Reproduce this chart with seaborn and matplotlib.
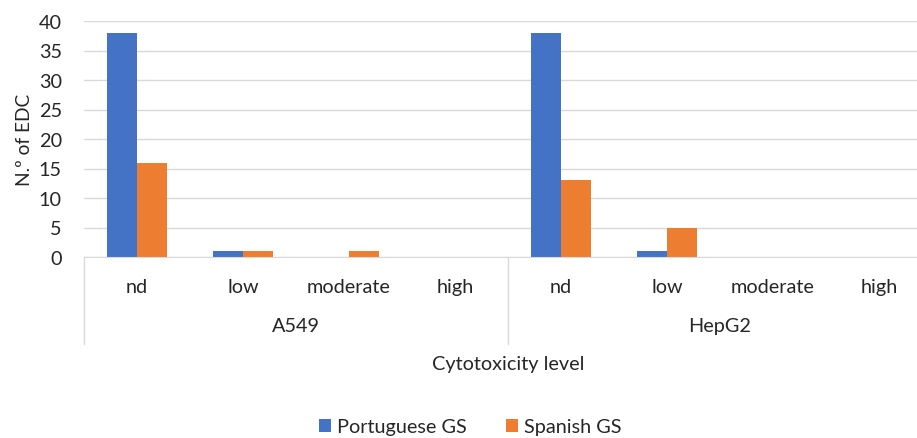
import pandas as pd
import matplotlib.pyplot as plt
import seaborn as sns

# Data
cell_lines = ['A549', 'HepG2']
levels = ['nd', 'low', 'moderate', 'high']
portuguese = [38, 1, 0, 0, 38, 1, 0, 0]
spanish = [16, 1, 1, 0, 13, 5, 0, 0]
series = ['Portuguese GS', 'Spanish GS']
colors = ['#4472C4', '#ED7D31']

keys = [f'{c} {l}' for c in cell_lines for l in levels]
df = pd.DataFrame({
    'key': keys * 2,
    'value': portuguese + spanish,
    'series': [series[0]] * len(keys) + [series[1]] * len(keys),
})

sns.set_style('white')
plt.rcParams['font.family'] = ['Lato', 'DejaVu Sans']
fs = 14.3

fig = plt.figure(figsize=(9.17, 4.39), dpi=100)
ax = fig.add_axes([84 / 917, 181 / 439, (917 - 84) / 917, 236 / 439])

sns.barplot(data=df, x='key', y='value', hue='series', order=keys,
            palette=colors, width=0.57, linewidth=0, saturation=1, ax=ax)

ax.set_ylim(0, 40)
ax.set_yticks(range(0, 41, 5))
ax.set_xlim(-0.5, 7.5 - 15 / 106)
ax.grid(axis='y', color='#d9d9d9', linewidth=1)
ax.set_axisbelow(True)
for s in ['left', 'right', 'top']:
    ax.spines[s].set_visible(False)
ax.spines['bottom'].set_color('#d9d9d9')
ax.tick_params(axis='both', length=0, labelsize=fs, colors='#262626')
ax.tick_params(axis='x', pad=15)
ax.tick_params(axis='y', pad=16)
ax.set_xticks(range(len(keys)))
ax.set_xticklabels(levels * len(cell_lines))
ax.set_xlabel('')
ax.set_ylabel('N.º of EDC', fontsize=fs - 0.5, color='#262626', labelpad=4)

# multi-level category axis
tr = ax.get_xaxis_transform()
for i in range(len(cell_lines)):
    x0 = i * len(levels) - 0.5
    ax.plot([x0, x0], [0, -87 / 236], transform=tr, color='#d9d9d9',
            linewidth=1, clip_on=False)
    ax.text(x0 + len(levels) / 2, -69 / 236, cell_lines[i], transform=tr,
            ha='center', va='center', fontsize=fs, color='#262626')
ax.text(3.5, -107 / 236, 'Cytotoxicity level', transform=tr,
        ha='center', va='center', fontsize=fs, color='#262626')

handles, labels = ax.get_legend_handles_labels()
ax.get_legend().remove()
fig.legend(handles, labels, loc='center', bbox_to_anchor=(470 / 917, 1 - 428 / 439),
           ncol=2, frameon=False, fontsize=fs, handlelength=0.6, handleheight=0.6,
           handletextpad=0.3, columnspacing=2.0)

fig.savefig('out.png', dpi=100)
